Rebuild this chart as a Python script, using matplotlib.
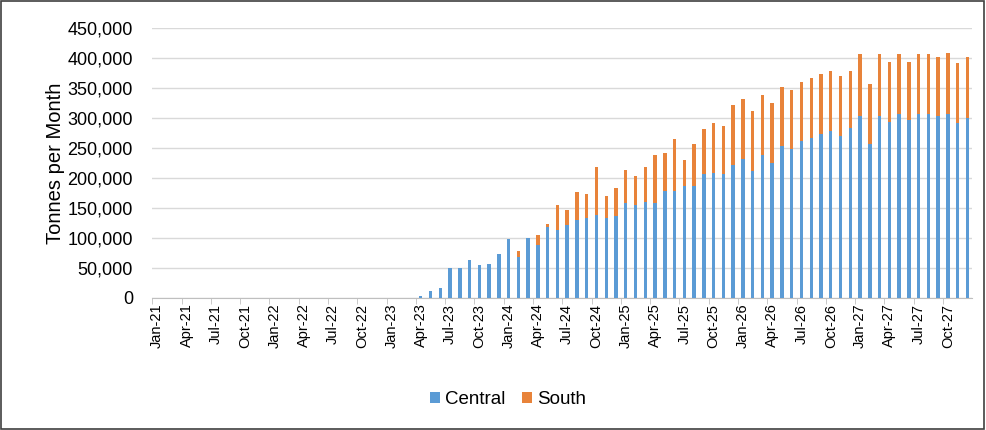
#!/usr/bin/env python3

import numpy as np
import matplotlib.pyplot as plt
from matplotlib.ticker import FuncFormatter, FixedLocator
from matplotlib.patches import Rectangle

# monthly data Jan-21 .. Dec-27
months = [f"{m}-{y}" for y in range(21, 28)
          for m in ["Jan", "Feb", "Mar", "Apr", "May", "Jun",
                    "Jul", "Aug", "Sep", "Oct", "Nov", "Dec"]]

central = [0] * 27 + [
    3000, 11000, 17000, 50000, 50000, 63000, 55000, 57000, 74000,
    98000, 68000, 100000, 88000, 118000, 113000, 122000, 130000, 134000,
    138000, 134000, 137000, 158000, 155000, 160000, 158000, 178000, 178000,
    186000, 187000, 206000, 208000, 206000, 221000, 232000, 212000, 239000,
    225000, 253000, 248000, 261000, 266000, 274000, 279000, 270000, 284000,
    303000, 256000, 304000, 294000, 306000, 296000, 306000, 306000, 304000,
    306000, 292000, 300000,
]
south = [0] * 27 + [
    0, 0, 0, 0, 0, 0, 0, 0, 0,
    0, 11000, 0, 17000, 6000, 42000, 24000, 46000, 39000,
    81000, 36000, 46000, 55000, 48000, 59000, 80000, 63000, 87000,
    44000, 70000, 75000, 84000, 81000, 101000, 100000, 99000, 99000,
    100000, 99000, 98000, 99000, 100000, 99000, 99000, 100000, 94000,
    103000, 101000, 102000, 100000, 100000, 98000, 100000, 100000, 98000,
    102000, 100000, 102000,
]

plt.rcParams['font.family'] = ['Liberation Sans', 'DejaVu Sans']

fig = plt.figure(figsize=(9.86, 4.30), dpi=100)
ax = fig.add_axes([0.1545, 0.307, 0.8316, 0.628])

x = np.arange(len(months))
blue = "#5B9BD5"
orange = "#E8833A"
ax.bar(x, central, width=0.35, color=blue, label="Central", zorder=3)
ax.bar(x, south, width=0.35, bottom=central, color=orange, label="South", zorder=3)

ax.set_xlim(-0.5, len(months) - 0.5)
ax.set_ylim(0, 450000)
ax.set_yticks(np.arange(0, 450001, 50000))
ax.yaxis.set_major_formatter(FuncFormatter(lambda v, p: f"{int(v):,}"))
ax.grid(axis="y", color="#D9D9D9", linewidth=1, zorder=0)

# labels every 3 months, tick marks on category boundaries
lab_pos = x[::3]
ax.xaxis.set_major_locator(FixedLocator(lab_pos))
ax.set_xticklabels([months[i] for i in lab_pos], rotation=90, fontsize=10.5)
ax.xaxis.set_minor_locator(FixedLocator(lab_pos - 0.5))
ax.tick_params(axis="x", which="major", length=0, pad=4)
ax.tick_params(axis="x", which="minor", length=4, color="#BFBFBF")
ax.tick_params(axis="y", length=0, labelsize=13, pad=14)

for s in ["top", "right", "left"]:
    ax.spines[s].set_visible(False)
ax.spines["bottom"].set_color("#BFBFBF")

ax.set_ylabel("Tonnes per Month", fontsize=14.5, labelpad=2)

fig.legend(loc="center", bbox_to_anchor=(0.515, 0.07), ncol=2, frameon=False,
           fontsize=13.5, handlelength=0.55, handleheight=0.55, handletextpad=0.25,
           columnspacing=0.9)

fig.patches.append(Rectangle((0.001, 0.002), 0.997, 0.995, transform=fig.transFigure,
                             fill=False, edgecolor="#404040", linewidth=1.2))

plt.savefig("out.png", dpi=100)
